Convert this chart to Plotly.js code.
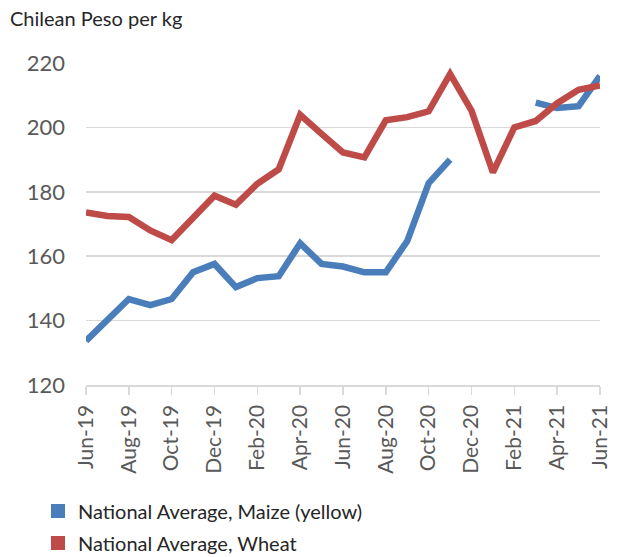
<!DOCTYPE html>
<html>
<head>
<meta charset="utf-8">
<script src="https://cdn.plot.ly/plotly-3.0.1.min.js"></script>
<style>html,body{margin:0;padding:0;background:#fff;}#chart{width:620px;height:557px;}</style>
</head>
<body>
<div id="chart"></div>
<script>
const months = ["Jun-19","Jul-19","Aug-19","Sep-19","Oct-19","Nov-19","Dec-19","Jan-20","Feb-20","Mar-20","Apr-20","May-20","Jun-20","Jul-20","Aug-20","Sep-20","Oct-20","Nov-20","Dec-20","Jan-21","Feb-21","Mar-21","Apr-21","May-21","Jun-21"];
const maize = [133.7,140.0,146.7,144.8,146.7,155.0,157.6,150.4,153.2,153.8,164.0,157.6,156.8,155.0,155.0,164.7,182.7,190.0,null,null,null,207.7,206.0,206.6,216.0];
const wheat = [173.6,172.5,172.2,168.0,165.0,172.0,178.8,176.0,182.5,187.0,203.9,198.0,192.2,190.7,202.2,203.2,205.0,216.6,205.2,186.0,200.0,202.0,207.5,211.7,213.0];
const tickLabels = ["Jun-19","Aug-19","Oct-19","Dec-19","Feb-20","Apr-20","Jun-20","Aug-20","Oct-20","Dec-20","Feb-21","Apr-21","Jun-21"];
const seriesNames = ["National Average, Maize (yellow)","National Average, Wheat"];
const colors = ["#4A7EBB","#BE4B48"];
const font = "Lato, sans-serif";

const traces = [
  {x: months, y: maize, type: "scatter", mode: "lines", line: {color: colors[0], width: 6.5}, connectgaps: false, showlegend: false, hoverinfo: "skip"},
  {x: months, y: wheat, type: "scatter", mode: "lines", line: {color: colors[1], width: 6.5}, showlegend: false, hoverinfo: "skip"},
  {x: [null], y: [null], type: "scatter", mode: "markers", name: seriesNames[0], marker: {symbol: "square", size: 14, color: colors[0]}, legend: "legend"},
  {x: [null], y: [null], type: "scatter", mode: "markers", name: seriesNames[1], marker: {symbol: "square", size: 14, color: colors[1]}, legend: "legend2"}
];

const layout = {
  width: 620, height: 557,
  margin: {l: 86, r: 20, t: 63, b: 172, autoexpand: false},
  paper_bgcolor: "#fff", plot_bgcolor: "#fff",
  font: {family: font, color: "#595959"},
  title: {text: "Chilean Peso per kg", x: 10/620, xanchor: "left", xref: "container", y: 1 - 19/557, yanchor: "middle", yref: "container", font: {family: font, size: 20, color: "#262626"}},
  xaxis: {
    type: "category", range: [0, 24], tickmode: "array", tickvals: tickLabels, ticktext: tickLabels,
    tickangle: -90, tickfont: {family: font, size: 21, color: "#595959"},
    showgrid: false, showline: true, linecolor: "#d9d9d9", linewidth: 1.5,
    ticks: "outside", ticklen: 8, tickcolor: "#d9d9d9", tickwidth: 1.5, ticklabelstandoff: 2, zeroline: false, fixedrange: true
  },
  yaxis: {
    range: [120, 220], tickmode: "linear", tick0: 120, dtick: 20,
    tickfont: {family: font, size: 22, color: "#595959"}, ticklabelstandoff: 20,
    showgrid: true, gridcolor: "#d9d9d9", gridwidth: 1.5, zeroline: false, showline: false, ticks: "", fixedrange: true
  },
  legend: {x: (38-86)/514, xanchor: "left", y: (385-511)/322, yanchor: "middle", orientation: "v", font: {family: font, size: 20, color: "#262626"}, bgcolor: "rgba(0,0,0,0)"},
  legend2: {x: (38-86)/514, xanchor: "left", y: (385-543)/322, yanchor: "middle", orientation: "v", font: {family: font, size: 20, color: "#262626"}, bgcolor: "rgba(0,0,0,0)"}
};

Plotly.newPlot("chart", traces, layout, {displayModeBar: false, staticPlot: true});
</script>
</body>
</html>
